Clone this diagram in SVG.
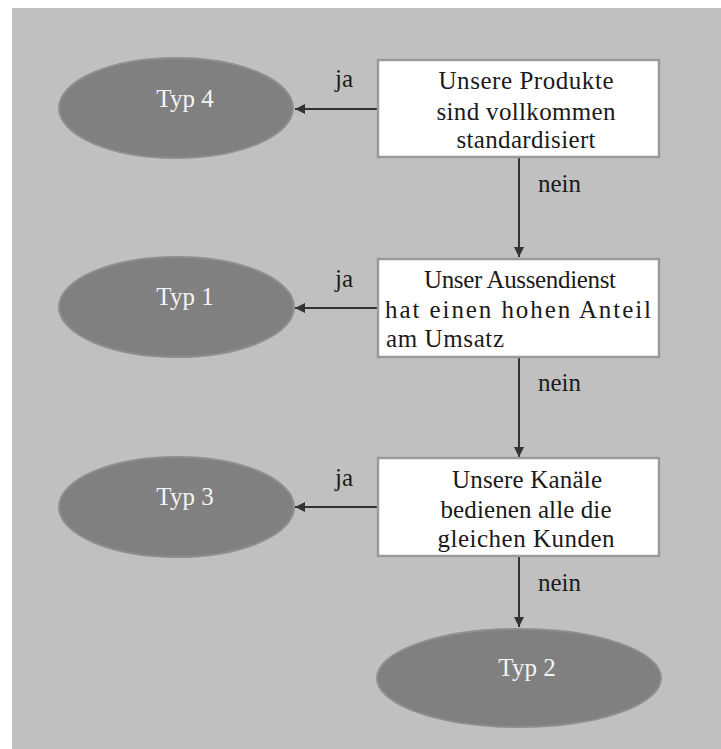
<svg xmlns="http://www.w3.org/2000/svg" width="721" height="749" viewBox="0 0 721 749">
  <defs>
    <marker id="arrow" viewBox="0 0 10 10" refX="10" refY="5" markerWidth="15" markerHeight="10" markerUnits="userSpaceOnUse" orient="auto">
      <path d="M0,0 L10,5 L0,10 z" fill="#333333"/>
    </marker>
    <style>
      .box { fill: #ffffff; stroke: #9a9a9a; stroke-width: 2.5; }
      .term { fill: #808080; stroke: #8e8e8e; stroke-width: 2; }
      .btext { font-family: "Liberation Serif", "Times New Roman", serif; font-size: 25px; fill: #1a1a1a; text-anchor: middle; }
      .ttext { font-family: "Liberation Serif", "Times New Roman", serif; font-size: 25px; fill: #f4f4f4; text-anchor: middle; }
      .elabel { font-family: "Liberation Serif", "Times New Roman", serif; font-size: 25px; fill: #1a1a1a; }
      .edge { fill: none; stroke: #333333; stroke-width: 2; marker-end: url(#arrow); }
    </style>
  </defs>

  <!-- canvas -->
  <rect x="12" y="8" width="709" height="741" fill="#c0c0c0"/>

  <!-- connectors -->
  <g id="connectors">
    <path class="edge" d="M378,109 L295,109"/>
    <text class="elabel" x="335" y="87">ja</text>
    <path class="edge" d="M519,157 L519,257"/>
    <text class="elabel" x="538" y="192">nein</text>

    <path class="edge" d="M378,308 L295,308"/>
    <text class="elabel" x="335" y="287">ja</text>
    <path class="edge" d="M519,357 L519,457"/>
    <text class="elabel" x="538" y="391">nein</text>

    <path class="edge" d="M378,507 L295,507"/>
    <text class="elabel" x="335" y="486">ja</text>
    <path class="edge" d="M519,556 L519,627"/>
    <text class="elabel" x="538" y="591">nein</text>
  </g>

  <!-- decision boxes -->
  <g id="q-produkte">
    <rect class="box" x="378" y="60" width="281" height="97"/>
    <text class="btext" x="526" y="89" textLength="175">Unsere Produkte</text>
    <text class="btext" x="526" y="120" textLength="179">sind vollkommen</text>
    <text class="btext" x="526" y="148" textLength="139">standardisiert</text>
  </g>
  <g id="q-aussendienst">
    <rect class="box" x="378" y="259" width="281" height="98"/>
    <text class="btext" x="520" y="288" textLength="192">Unser Aussendienst</text>
    <text class="btext" x="518" y="318" textLength="266">hat einen hohen Anteil</text>
    <text class="btext" x="386" y="347" style="text-anchor:start" textLength="118">am Umsatz</text>
  </g>
  <g id="q-kanaele">
    <rect class="box" x="378" y="458" width="281" height="98"/>
    <text class="btext" x="527" y="488" textLength="150">Unsere Kanäle</text>
    <text class="btext" x="526" y="518" textLength="171">bedienen alle die</text>
    <text class="btext" x="526" y="547" textLength="177">gleichen Kunden</text>
  </g>

  <!-- outcomes -->
  <g id="typ4">
    <ellipse class="term" cx="176" cy="108" rx="117" ry="50"/>
    <text class="ttext" x="185" y="107">Typ 4</text>
  </g>
  <g id="typ1">
    <ellipse class="term" cx="176.5" cy="307" rx="117.5" ry="50"/>
    <text class="ttext" x="185" y="305">Typ 1</text>
  </g>
  <g id="typ3">
    <ellipse class="term" cx="176.5" cy="507" rx="117.5" ry="50"/>
    <text class="ttext" x="185" y="505">Typ 3</text>
  </g>
  <g id="typ2">
    <ellipse class="term" cx="519" cy="678" rx="142" ry="49"/>
    <text class="ttext" x="527" y="676">Typ 2</text>
  </g>
</svg>
